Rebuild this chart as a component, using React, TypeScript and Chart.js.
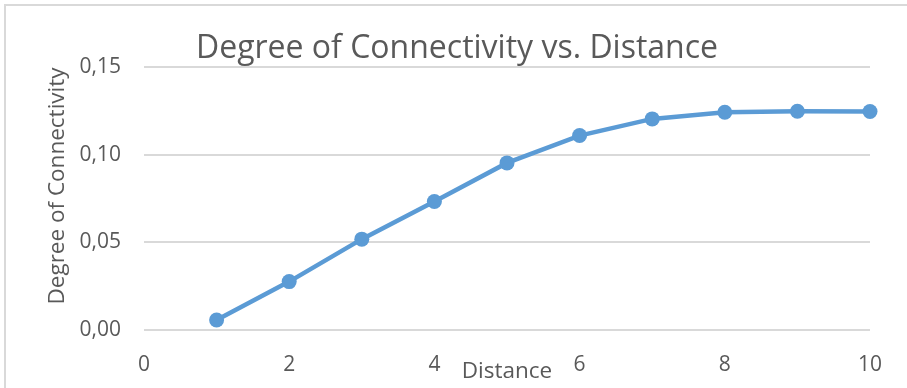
import React, { useEffect, useRef } from "react";
import { Chart, registerables } from "chart.js";

Chart.register(...registerables);

const distance = [1, 2, 3, 4, 5, 6, 7, 8, 9, 10];
const connectivity = [0.0057, 0.0276, 0.0518, 0.0733, 0.0953, 0.1109, 0.1204, 0.1242, 0.1248, 0.1246];
const xTicks = [0, 2, 4, 6, 8, 10];
const yTicks = [0, 0.05, 0.1, 0.15];
const chartTitle = "Degree of Connectivity vs. Distance";
const xTitle = "Distance";
const yTitle = "Degree of Connectivity";

const FONT = "'Open Sans', 'Noto Sans', sans-serif";
const TEXT = "#595959";

const decor = {
  id: "decor",
  afterDraw(chart: any) {
    const ctx = chart.ctx;
    ctx.save();
    ctx.strokeStyle = "#d9d9d9";
    ctx.lineWidth = 2;
    ctx.strokeRect(5, 5, chart.width + 20, chart.height + 20);
    ctx.fillStyle = TEXT;
    ctx.textAlign = "center";
    ctx.textBaseline = "middle";
    ctx.font = `32px ${FONT}`;
    ctx.fillText(chartTitle, 457, 49);
    ctx.font = `22.5px ${FONT}`;
    ctx.fillText(xTitle, 507, 372);
    ctx.translate(58, 186);
    ctx.rotate(-Math.PI / 2);
    ctx.fillText(yTitle, 0, 0);
    ctx.restore();
  },
};

export default function App() {
  const ref = useRef<HTMLCanvasElement>(null);
  useEffect(() => {
    const prevMargin = document.body.style.margin;
    document.body.style.margin = "0";
    const chart = new Chart(ref.current!, {
      type: "scatter",
      data: {
        datasets: [
          {
            data: distance.map((d, i) => ({ x: d, y: connectivity[i] })),
            showLine: true,
            clip: false,
            borderColor: "#5b9bd5",
            backgroundColor: "#5b9bd5",
            borderWidth: 4.5,
            pointRadius: 7.5,
            pointHoverRadius: 7.5,
            pointBorderWidth: 0,
          },
        ],
      },
      options: {
        responsive: false,
        animation: false,
        devicePixelRatio: 1,
        layout: { padding: { top: 67, right: 37, bottom: 0, left: 0 } },
        plugins: { legend: { display: false }, tooltip: { enabled: false } },
        scales: {
          x: {
            type: "linear",
            min: 0,
            max: 10,
            afterFit: (s: any) => {
              s.height = 58;
            },
            afterBuildTicks: (s: any) => {
              s.ticks = xTicks.map((v) => ({ value: v }));
            },
            grid: { display: false, drawTicks: false },
            border: { display: false },
            ticks: {
              padding: 22,
              color: TEXT,
              font: { family: FONT, size: 21 },
              maxRotation: 0,
            },
          },
          y: {
            type: "linear",
            min: 0,
            max: 0.15,
            afterFit: (s: any) => {
              s.width = 144;
            },
            afterBuildTicks: (s: any) => {
              s.ticks = yTicks.map((v) => ({ value: v }));
            },
            grid: { color: "#d9d9d9", lineWidth: 2, drawTicks: false },
            border: { display: false },
            ticks: {
              padding: 23,
              color: TEXT,
              font: { family: FONT, size: 21 },
              callback: (v: any) => Number(v).toFixed(2).replace(".", ","),
            },
          },
        },
      },
      plugins: [decor],
    });
    return () => {
      chart.destroy();
      document.body.style.margin = prevMargin;
    };
  }, []);
  return (
    <div style={{ position: "absolute", left: 0, top: 0, width: 907, height: 388, background: "#fff" }}>
      <canvas ref={ref} width={907} height={388} />
    </div>
  );
}
